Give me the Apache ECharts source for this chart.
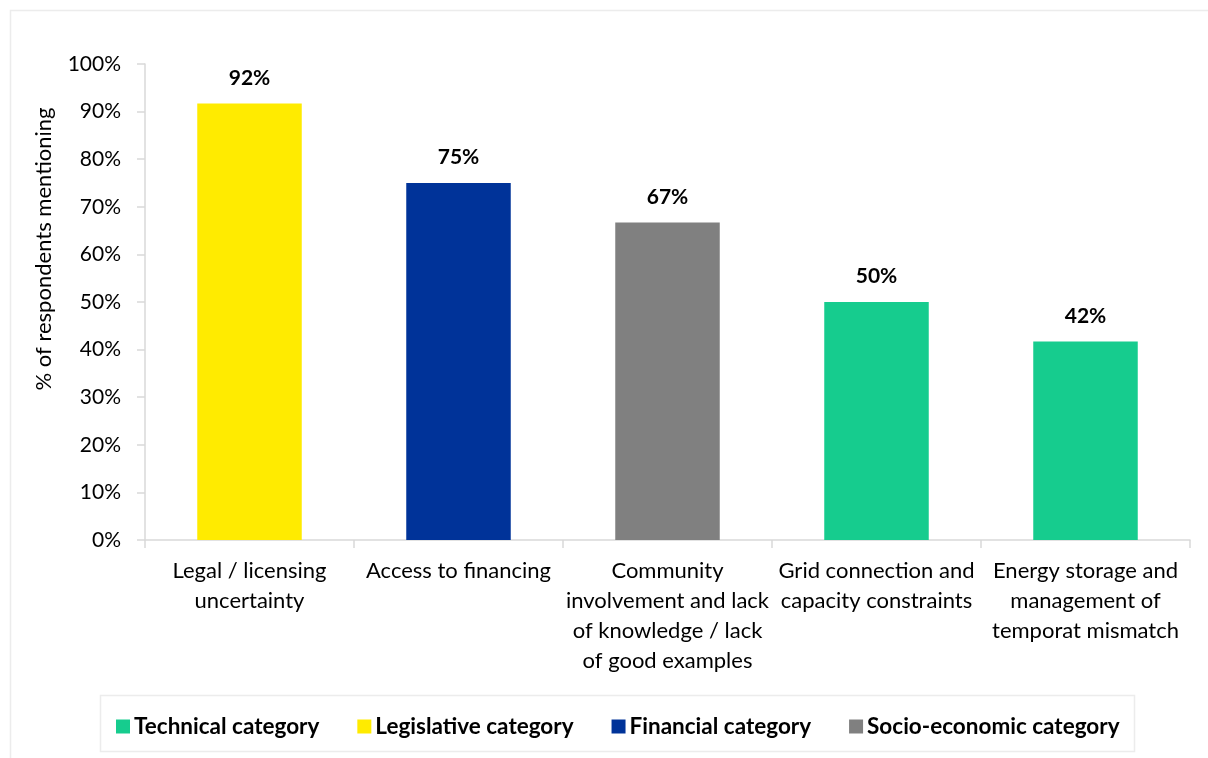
<!DOCTYPE html>
<html><head><meta charset="utf-8">
<script src="https://cdn.jsdelivr.net/npm/echarts@6/dist/echarts.min.js"></script>
<style>html,body{margin:0;padding:0;background:#fff}#c{width:1208px;height:758px}</style>
</head><body><div id="c"></div>
<script>
const categories = ["Legal / licensing\nuncertainty", "Access to financing", "Community\ninvolvement and lack\nof knowledge / lack\nof good examples", "Grid connection and\ncapacity constraints", "Energy storage and\nmanagement of\ntemporat mismatch"];
const seriesNames = ["Technical category", "Legislative category", "Financial category", "Socio-economic category"];
const seriesColors = ["#16CC8E", "#FFEB00", "#003399", "#808080"];
const technical = [null, null, null, 50, 41.7];
const legislative = [91.7, null, null, null, null];
const financial = [null, 75, null, null, null];
const socio = [null, null, 66.7, null, null];
const yTicks = [0, 100, 10];
const yTitle = '% of respondents mentioning';
const FONT = "Lato, 'Open Sans', sans-serif";
const dataSets = [technical, legislative, financial, socio];
const chart = echarts.init(document.getElementById('c'));
chart.setOption({
  animation: false,
  textStyle: { fontFamily: FONT },
  graphic: [
    { type: 'rect', shape: { x: 10.5, y: 10.5, width: 1300, height: 900 }, style: { fill: 'none', stroke: '#ececec', lineWidth: 1.5 }, z: -1 },
    { type: 'rect', shape: { x: 100.5, y: 695.5, width: 1034, height: 56 }, style: { fill: 'none', stroke: '#ececec', lineWidth: 1.5 }, z: -1 },
    { type: 'text', x: 44, y: 249, rotation: Math.PI / 2,
      style: { text: yTitle, fontSize: 22, fill: '#000', fontFamily: FONT, align: 'center', verticalAlign: 'middle' } }
  ],
  grid: { left: 145, right: 18, top: 64, bottom: 218, containLabel: false },
  legend: {
    left: 111, top: 710, itemWidth: 14, itemHeight: 14, itemGap: 38,
    icon: 'rect',
    textStyle: { fontFamily: FONT, fontSize: 22.5, fontWeight: 'bold', color: '#000', padding: [0, 0, 0, -1] },
    data: seriesNames
  },
  xAxis: {
    type: 'category', data: categories,
    axisLine: { lineStyle: { color: '#d9d9d9', width: 1.5 } },
    axisTick: { show: true, length: 8, lineStyle: { color: '#d9d9d9', width: 1.5 } },
    axisLabel: { interval: 0, fontSize: 22, color: '#000', lineHeight: 30, margin: 16, fontFamily: FONT }
  },
  yAxis: {
    type: 'value', min: yTicks[0], max: yTicks[1], interval: yTicks[2],
    axisLine: { show: true, lineStyle: { color: '#d9d9d9', width: 1.5 } },
    axisTick: { show: true, length: 8, lineStyle: { color: '#d9d9d9', width: 1.5 } },
    splitLine: { show: false },
    axisLabel: { formatter: '{value}%', fontSize: 21, color: '#000', margin: 24, fontFamily: FONT }
  },
  series: dataSets.map((d, i) => ({
    name: seriesNames[i], type: 'bar', stack: 'all', barWidth: '50%',
    data: d, itemStyle: { color: seriesColors[i] },
    label: { show: true, position: 'top', distance: 15, fontSize: 21, fontWeight: 'bold', color: '#000', fontFamily: FONT,
      formatter: p => p.value == null ? '' : Math.round(p.value) + '%' }
  }))
});
</script></body></html>
